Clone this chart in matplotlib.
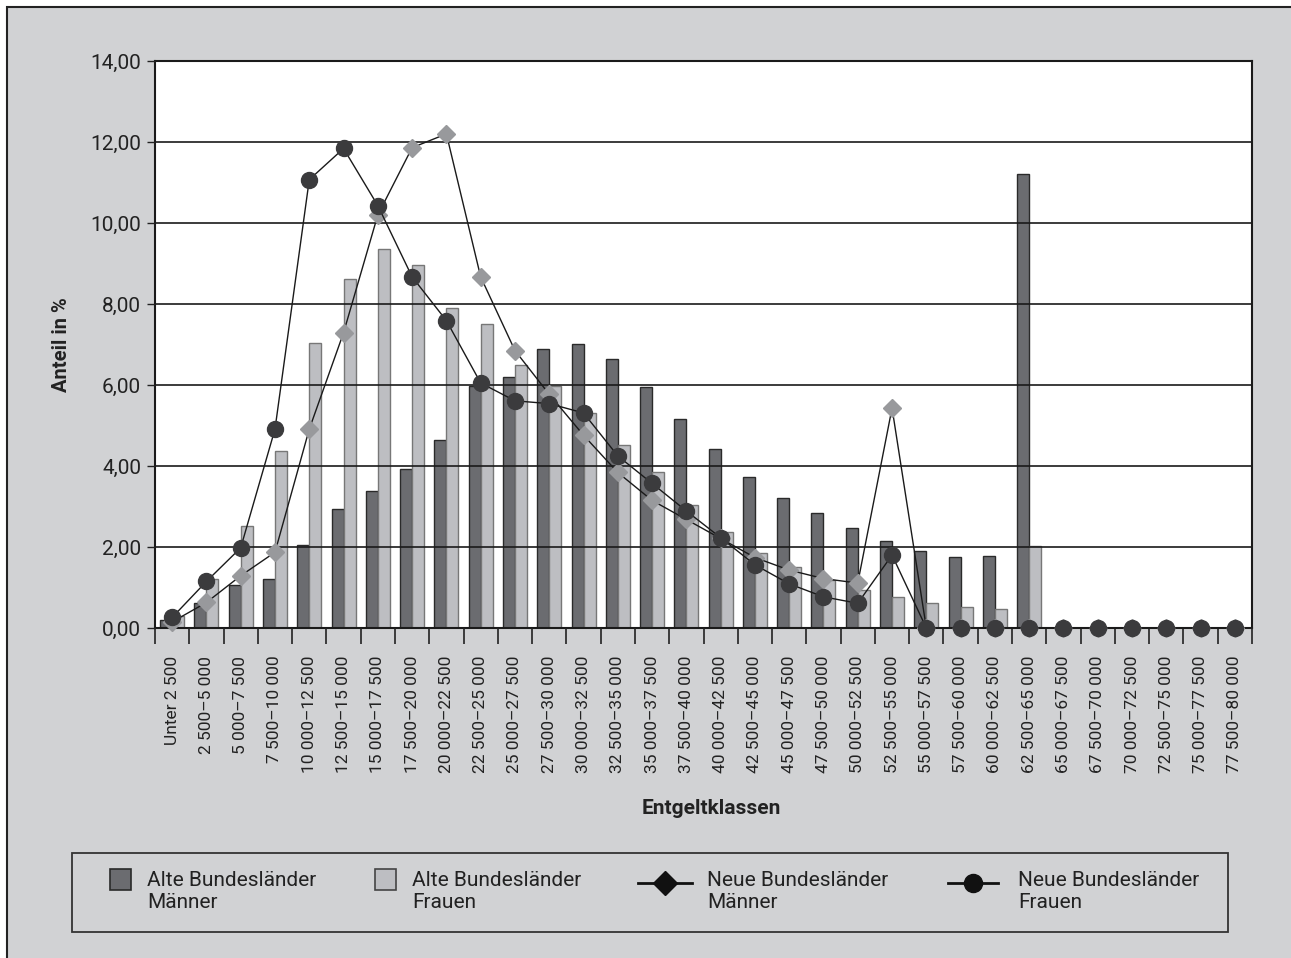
import numpy as np
import matplotlib
matplotlib.use('Agg')
import matplotlib.pyplot as plt
from matplotlib.lines import Line2D
from matplotlib.patches import Rectangle
from matplotlib.ticker import FuncFormatter

# data

klassen = ['Unter 2 500', '2 500–5 000', '5 000–7 500', '7 500–10 000', '10 000–12 500',
           '12 500–15 000', '15 000–17 500', '17 500–20 000', '20 000–22 500', '22 500–25 000',
           '25 000–27 500', '27 500–30 000', '30 000–32 500', '32 500–35 000', '35 000–37 500',
           '37 500–40 000', '40 000–42 500', '42 500–45 000', '45 000–47 500', '47 500–50 000',
           '50 000–52 500', '52 500–55 000', '55 000–57 500', '57 500–60 000', '60 000–62 500',
           '62 500–65 000', '65 000–67 500', '67 500–70 000', '70 000–72 500', '72 500–75 000',
           '75 000–77 500', '77 500–80 000']

alte_maenner = [0.19, 0.62, 1.06, 1.21, 2.06, 2.93, 3.38, 3.92, 4.65, 5.98,
                6.19, 6.89, 7.00, 6.63, 5.95, 5.16, 4.41, 3.74, 3.21, 2.84,
                2.46, 2.15, 1.89, 1.76, 1.79, 11.22, 0, 0, 0, 0, 0, 0]
alte_frauen = [0.30, 1.21, 2.53, 4.38, 7.03, 8.61, 9.35, 8.96, 7.89, 7.51,
               6.49, 5.97, 5.30, 4.52, 3.84, 3.04, 2.38, 1.85, 1.51, 1.19,
               0.95, 0.77, 0.62, 0.53, 0.48, 2.02, 0, 0, 0, 0, 0, 0]
neue_maenner = [0.15, 0.63, 1.29, 1.87, 4.91, 7.29, 10.20, 11.86, 12.20, 8.67,
                6.85, 5.77, 4.76, 3.84, 3.15, 2.68, 2.21, 1.74, 1.43, 1.22,
                1.11, 5.43, 0, 0, 0, 0, 0, 0, 0, 0, 0, 0]
neue_frauen = [0.26, 1.15, 1.98, 4.91, 11.07, 11.84, 10.43, 8.67, 7.59, 6.05,
               5.61, 5.54, 5.31, 4.25, 3.57, 2.89, 2.23, 1.56, 1.09, 0.77,
               0.61, 1.80, 0, 0, 0, 0, 0, 0, 0, 0, 0, 0]

legende = ['Alte Bundesländer\nMänner', 'Alte Bundesländer\nFrauen',
           'Neue Bundesländer\nMänner', 'Neue Bundesländer\nFrauen']

# colours
bg = '#d1d2d4'
dunkel = '#6b6c70'
hell = '#bdbec2'
raute = '#98999c'
kreis = '#3b3b3d'
schrift = '#222222'

plt.rcParams['font.family'] = ['Roboto', 'DejaVu Sans']

W, H = 1291, 958
fig = plt.figure(figsize=(W / 100, H / 100), dpi=100)
fig.patch.set_facecolor('white')

def fx(px):
    return px / W

def fy(py):
    return 1 - py / H

# grey panel with frame on left/top
fig.patches.append(Rectangle((fx(7), -0.05), 1.1, fy(7) + 0.05, transform=fig.transFigure,
                             facecolor=bg, edgecolor='#222222', linewidth=1.5, zorder=-10))

ax = fig.add_axes([fx(155), fy(628), fx(1252 - 155), (628 - 61) / H])
ax.set_facecolor('white')

x = np.arange(len(klassen))
bw = 0.35
ax.bar(x - bw / 2, alte_maenner, bw, color=dunkel, edgecolor='#2a2a2a', linewidth=1.0, zorder=1)
ax.bar(x + bw / 2, alte_frauen, bw, color=hell, edgecolor='#777777', linewidth=1.0, zorder=1)

ax.plot(x, neue_maenner, color='#1a1a1a', linewidth=1.0, marker='D', markersize=9.5,
        markerfacecolor=raute, markeredgecolor=raute, zorder=3, clip_on=False)
ax.plot(x, neue_frauen, color='#1a1a1a', linewidth=1.0, marker='o', markersize=11.5,
        markerfacecolor=kreis, markeredgecolor=kreis, zorder=4, clip_on=False)

ax.set_xlim(-0.5, len(klassen) - 0.5)
ax.set_ylim(0, 14)
ax.set_yticks(np.arange(0, 15, 2))
ax.yaxis.set_major_formatter(FuncFormatter(lambda v, p: f'{v:.2f}'.replace('.', ',')))
# gridlines sit on top of the bars, below the lines
ax.set_axisbelow(False)
ax.yaxis.grid(True, color='#1a1a1a', linewidth=1.2)

ax.set_xticks(x)
ax.set_xticklabels(klassen, rotation=90, fontsize=12.5, color=schrift)
ax.set_xticks(np.arange(-0.5, len(klassen)), minor=True)
ax.tick_params(axis='x', which='major', length=0, pad=20)
ax.tick_params(axis='x', which='minor', length=11.5, width=1.2, color='#222222')
ax.tick_params(axis='y', length=6, width=1.0, color='#222222', labelsize=15,
               labelcolor=schrift, pad=4)

for s in ax.spines.values():
    s.set_color('#1a1a1a')
    s.set_linewidth(1.5)

ax.set_ylabel('Anteil in %', fontsize=14.5, fontweight='bold', color=schrift, labelpad=14)
fig.text(fx(711), fy(808), 'Entgeltklassen', fontsize=15, fontweight='bold',
         color=schrift, ha='center', va='center')

# legend box drawn by hand
fig.patches.append(Rectangle((fx(72), fy(932)), fx(1228 - 72), (932 - 853) / H,
                             transform=fig.transFigure, facecolor=bg,
                             edgecolor='#333333', linewidth=1.3))
ymid = fy(883)
fig.patches.append(Rectangle((fx(110), fy(890)), fx(21), 21 / H, transform=fig.transFigure,
                             facecolor=dunkel, edgecolor='#2a2a2a', linewidth=1.2))
fig.patches.append(Rectangle((fx(375), fy(890)), fx(21), 21 / H, transform=fig.transFigure,
                             facecolor=hell, edgecolor='#444444', linewidth=1.2))
fig.add_artist(Line2D([fx(638), fx(692)], [ymid, ymid], transform=fig.transFigure,
                      color='#111111', linewidth=2))
fig.add_artist(Line2D([fx(665)], [ymid], transform=fig.transFigure, marker='D',
                      markersize=12, color='#111111', linestyle='none'))
fig.add_artist(Line2D([fx(948), fx(998)], [ymid, ymid], transform=fig.transFigure,
                      color='#111111', linewidth=2))
fig.add_artist(Line2D([fx(973)], [ymid], transform=fig.transFigure, marker='o',
                      markersize=13, color='#111111', linestyle='none'))

for tx, lab in zip([147, 412, 707, 1018], legende):
    fig.text(fx(tx), fy(891.5), lab, fontsize=15, color=schrift, ha='left', va='center',
             linespacing=1.15)

fig.savefig('out.png', dpi=100, facecolor=fig.get_facecolor())
